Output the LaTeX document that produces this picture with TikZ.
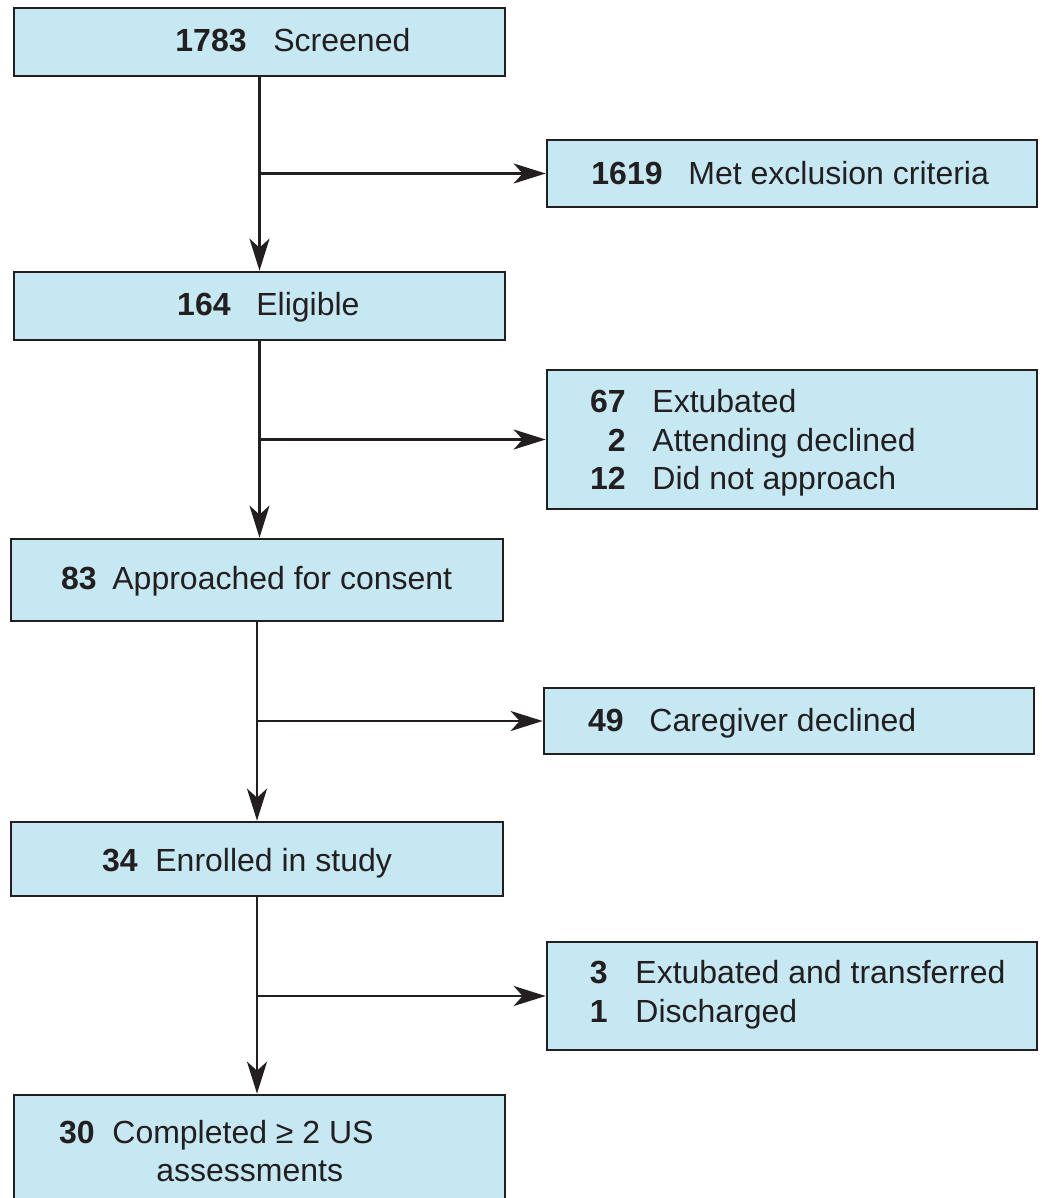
\documentclass[tikz,border=0pt]{standalone}
\usepackage{fontspec}
\setmainfont{Liberation Sans}
\usetikzlibrary{arrows.meta,fit}
\definecolor{boxfill}{RGB}{198,232,242}
\definecolor{ink}{RGB}{35,31,32}
\begin{document}
\begin{tikzpicture}[x=0.5pt,y=-0.5pt,
  box/.style={draw=ink,fill=boxfill,line width=1.35pt,inner sep=0pt},
  arr/.style={draw=ink,line width=1.35pt,-{Stealth[length=16pt,width=10pt,inset=4.5pt]}},
  num/.style={anchor=base east,inner sep=0pt,text=ink,font=\fontsize{16}{19}\selectfont\bfseries},
  lab/.style={anchor=base west,inner sep=0pt,text=ink,font=\fontsize{16}{19}\selectfont}]
\clip (0,0) rectangle (1042,1198);
\fill[white] (0,0) rectangle (1042,1198);
% boxes
\node[box,fit={(14,8) (505,76)}] (b1) {};
\node[box,fit={(547,140) (1037,207)}] (b2) {};
\node[box,fit={(14,272) (505,340)}] (b3) {};
\node[box,fit={(547,370) (1037,509)}] (b4) {};
\node[box,fit={(11,539) (503,621)}] (b5) {};
\node[box,fit={(544,688) (1034,754)}] (b6) {};
\node[box,fit={(11,822) (503,896)}] (b7) {};
\node[box,fit={(547,942) (1037,1050)}] (b8) {};
\node[box,fit={(14,1095) (505,1240)}] (b9) {};
% texts
\node[num] (n1) at (247,52) {1783};
\node[lab] (l1) at (273,52) {Screened};
\node[num] (n2) at (663,184.5) {1619};
\node[lab] (l2) at (688,184.5) {Met exclusion criteria};
\node[num] (n3) at (231,315) {164};
\node[lab] (l3) at (256,315) {Eligible};
\node[num] (n4a) at (626,412) {67};
\node[lab] (l4a) at (652,412) {Extubated};
\node[num] (n4b) at (626,451) {2};
\node[lab] (l4b) at (652,451) {Attending declined};
\node[num] (n4c) at (626,489.5) {12};
\node[lab] (l4c) at (652,489.5) {Did not approach};
\node[num] (n5) at (97,589) {83};
\node[lab] (l5) at (112,589) {Approached for consent};
\node[num] (n6) at (624,731.5) {49};
\node[lab] (l6) at (649,731.5) {Caregiver declined};
\node[num] (n7) at (138,871) {34};
\node[lab] (l7) at (155,871) {Enrolled in study};
\node[num] (n8a) at (608,983.5) {3};
\node[lab] (l8a) at (635,983.5) {Extubated and transferred};
\node[num] (n8b) at (608,1022) {1};
\node[lab] (l8b) at (635,1022) {Discharged};
\node[num] (n9) at (95,1143.5) {30};
\node[lab] (l9a) at (112,1143.5) {Completed ≥ 2 US};
\node[lab] (l9b) at (156,1181) {assessments};
% connectors
\draw[arr] (b1.south) -- (b3.north);
\draw[arr] (b1.south |- b2.west) -- (b2.west);
\draw[arr] (b3.south) -- (b3.south |- b5.north);
\draw[arr] (b3.south |- b4.west) -- (b4.west);
\draw[arr] (b5.south) -- (b7.north);
\draw[arr] (b5.south |- b6.west) -- (b6.west);
\draw[arr] (b7.south) -- (b7.south |- b9.north);
\draw[arr] (b7.south |- b8.west) -- (b8.west);
\end{tikzpicture}
\end{document}
